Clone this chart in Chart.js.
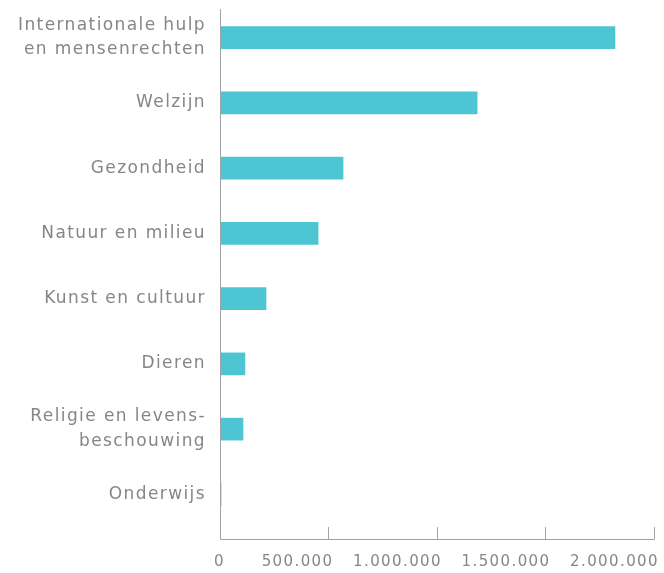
<!DOCTYPE html>
<html>
<head>
<meta charset="utf-8">
<script src="https://cdn.jsdelivr.net/npm/chart.js@4"></script>
<style>
  html, body { margin: 0; padding: 0; background: #ffffff; }
  #wrap { width: 664px; height: 573px; }
</style>
</head>
<body>
<div id="wrap"><canvas id="c" width="664" height="573"></canvas></div>
<script>
const categories = [
  ['Internationale hulp', 'en mensenrechten'],
  'Welzijn',
  'Gezondheid',
  'Natuur en milieu',
  'Kunst en cultuur',
  'Dieren',
  ['Religie en levens-', 'beschouwing'],
  'Onderwijs'
];
const values = [1820000, 1185000, 567000, 452000, 212000, 115000, 106000, 5000];
const xTickValues = [0, 500000, 1000000, 1500000, 2000000];

const TEXT = '#868686';
const AXIS = '#a2a2a6';
const BAR = '#4dc5d2';
const SPACING = '1.4px';

function fmt(v) {
  return String(v).replace(/\B(?=(\d{3})+(?!\d))/g, '.');
}

const axisPlugin = {
  id: 'axisLines',
  beforeUpdate(chart) { chart.ctx.letterSpacing = SPACING; },
  beforeDraw(chart) { chart.ctx.letterSpacing = SPACING; },
  afterDraw(chart) {
    const ctx = chart.ctx;
    const xs = chart.scales.x;
    const x0 = Math.round(xs.getPixelForValue(0)) + 0.5;
    const x1 = xs.getPixelForValue(xTickValues[xTickValues.length - 1]);
    const yb = Math.round(xs.top + xs.options.grid.tickLength) + 0.5;
    ctx.save();
    ctx.strokeStyle = AXIS;
    ctx.lineWidth = 1;
    ctx.beginPath();
    ctx.moveTo(x0, chart.chartArea.top + 4);
    ctx.lineTo(x0, yb);
    ctx.moveTo(x0, yb);
    ctx.lineTo(x1 + 0.5, yb);
    ctx.stroke();
    ctx.restore();
  }
};

new Chart(document.getElementById('c'), {
  type: 'bar',
  data: {
    labels: categories,
    datasets: [{
      data: values,
      backgroundColor: BAR,
      borderWidth: 0,
      barThickness: 22
    }]
  },
  options: {
    indexAxis: 'y',
    responsive: false,
    animation: false,
    devicePixelRatio: 1,
    layout: { padding: { top: 5, right: 10, left: 0, bottom: 0 } },
    plugins: {
      legend: { display: false },
      tooltip: { enabled: false }
    },
    scales: {
      x: {
        type: 'linear',
        min: 0,
        max: 2000000,
        afterBuildTicks(scale) {
          scale.ticks = xTickValues.map(v => ({ value: v }));
        },
        afterFit(scale) {
          scale.height = 46;
          scale.paddingLeft = 0;
          scale.paddingRight = 0;
        },
        border: { display: false },
        grid: {
          drawOnChartArea: false,
          drawTicks: true,
          tickLength: 12,
          color: AXIS,
          lineWidth: 1
        },
        ticks: {
          color: TEXT,
          font: { family: 'DejaVu Sans', size: 15 },
          align: 'end',
          labelOffset: 5,
          padding: 14,
          maxRotation: 0,
          autoSkip: false,
          callback: (v) => fmt(v)
        }
      },
      y: {
        type: 'category',
        afterFit(scale) {
          scale.width = 220;
          scale.paddingTop = 0;
          scale.paddingBottom = 0;
        },
        border: { display: false },
        grid: { display: false, drawTicks: false },
        ticks: {
          color: TEXT,
          font: { family: 'DejaVu Sans', size: 17, lineHeight: 1.45 },
          padding: 14,
          autoSkip: false
        }
      }
    }
  },
  plugins: [axisPlugin]
});
</script>
</body>
</html>
